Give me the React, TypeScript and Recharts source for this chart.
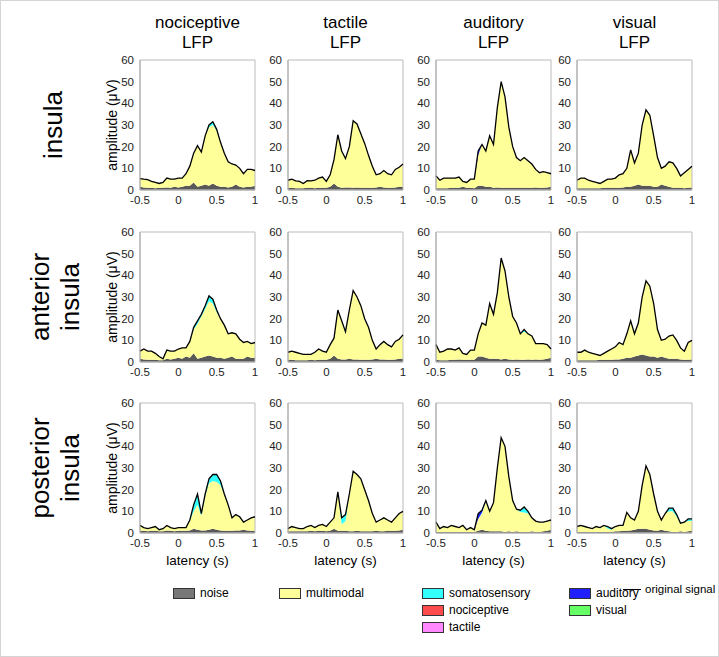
import { ComposedChart, Area, Line, XAxis, YAxis, ReferenceArea } from 'recharts';

const latency = [-0.5, -0.45, -0.4, -0.35, -0.3, -0.25, -0.2, -0.15, -0.1, -0.05, 0, 0.05, 0.1, 0.15, 0.2, 0.25, 0.3, 0.35, 0.4, 0.45, 0.5, 0.55, 0.6, 0.65, 0.7, 0.75, 0.8, 0.85, 0.9, 0.95, 1];
const modalities = ['nociceptive', 'tactile', 'auditory', 'visual'];
const regions = [['insula'], ['anterior', 'insula'], ['posterior', 'insula']];
const xTicks = [-0.5, 0, 0.5, 1];
const yTicks = [0, 10, 20, 30, 40, 50, 60];

const flat = [0, 0, 0, 0, 0, 0, 0, 0, 0, 0, 0, 0, 0, 0, 0, 0, 0, 0, 0, 0, 0, 0, 0, 0, 0, 0, 0, 0, 0, 0, 0];

// insula
const sigInsNoc = [5.3, 5, 4.8, 4, 3.5, 3, 3.5, 5.5, 5, 5, 5.5, 5.5, 7.5, 11, 17, 20.5, 17.5, 25, 30, 31.5, 28, 22, 17, 13, 12, 11.5, 10, 7.5, 9.5, 9.5, 9];
const noiseInsNoc = [1.5, 1.2, 1, 1, 0.8, 1, 1, 1.2, 1, 1.5, 1.2, 1.5, 2, 2, 3.5, 1.5, 2, 2.5, 2, 3, 2, 1.5, 1.5, 1.2, 1.5, 2.5, 1.5, 1.2, 1.5, 1.5, 2];
const somaInsNoc = [0, 0, 0, 0, 0, 0, 0, 0, 0, 0, 0, 0, 0, 0, 0, 0, 0, 0, 1, 1.5, 0.5, 0, 0, 0, 0, 0, 0, 0, 0, 0, 0];

const sigInsTac = [4.5, 5, 4.2, 4, 3, 4.3, 4.2, 4.5, 5.5, 6, 4, 7, 14, 25.5, 18, 14.5, 20, 32, 30.5, 26, 21.5, 16, 11, 7, 7.5, 9, 7.5, 7, 9.5, 10.5, 12];
const noiseInsTac = [1, 1, 0.8, 0.8, 0.8, 1, 1, 0.8, 1, 1, 1, 1.5, 3, 1.5, 1, 1.2, 1.2, 1, 1.2, 1, 1, 1, 1, 1.2, 1.5, 1.2, 1, 1, 1.2, 1.5, 1.5];

const sigInsAud = [6.5, 4.5, 5.5, 5.5, 5.5, 5.5, 6, 4, 3.5, 5, 5, 18, 21, 18, 25, 21, 38, 50, 43, 29, 20, 15, 13.5, 15, 13.5, 12, 9.5, 8, 8.5, 8, 7.5];
const noiseInsAud = [0.8, 0.8, 0.8, 0.8, 1, 1, 1, 1.5, 1, 1, 0.8, 2, 2, 1.5, 1.5, 1, 1.2, 1, 1, 1, 1, 1, 1, 1, 1, 1, 1.2, 1, 1, 1.2, 1.5];
const audInsAud = [0, 0, 0, 0, 0, 0, 0, 0, 0, 0, 0, 2, 0, 0, 0, 0, 0, 0, 0, 0, 0, 0, 0, 0, 0, 0, 0, 0, 0, 0, 0];

const sigInsVis = [4.5, 5.5, 5.5, 4.5, 4, 3.5, 3, 4, 5, 5, 5.5, 7, 7.5, 10, 18.5, 12.5, 17, 30, 37, 34.5, 25, 15, 10, 11, 13, 12.5, 10, 6.5, 8, 9.5, 11];
const noiseInsVis = [0.8, 0.8, 0.8, 0.8, 0.8, 0.8, 0.8, 1, 1, 1, 1, 1, 1.2, 1.5, 1.5, 2, 2.5, 2, 2, 2, 1.5, 1.5, 2.5, 2, 1.5, 1, 1, 1, 0.8, 1, 1.2];

// anterior insula
const sigAntNoc = [5, 6, 5, 5, 4, 2.5, 1.5, 5.5, 5, 5, 6, 6.5, 6.5, 9.5, 16, 19, 22, 26, 30.5, 29, 24, 20, 17, 13, 13.5, 13, 10.5, 9, 9.5, 8.5, 9];
const noiseAntNoc = [1.5, 1.2, 1, 1, 1, 0.8, 0.8, 1.5, 1.2, 1.5, 2, 1.5, 2.5, 2, 4, 1.5, 2, 2.5, 3, 2.5, 2, 2, 1.5, 2, 2.5, 1.5, 1.5, 1.5, 2.5, 2, 2];
const somaAntNoc = [0, 0, 0, 0, 0, 0, 0, 0, 0, 0, 0, 0, 0, 0, 1, 1.5, 1, 1.5, 2.5, 2, 1, 0, 0, 0, 0, 0, 0, 0, 0, 0, 0];

const sigAntTac = [4.5, 5, 4.5, 4, 3.5, 3.5, 3.5, 4.5, 6, 5, 4.5, 8, 11, 24, 19, 14, 24, 33, 30, 26, 20, 16, 10, 6, 8, 9.5, 8, 7, 9.5, 10.5, 12.5];
const noiseAntTac = [1, 1, 0.8, 0.8, 0.8, 0.8, 1, 0.8, 1, 1, 1, 1.5, 3, 1.5, 1.2, 1.2, 1.5, 1.2, 1.2, 1, 1, 1, 1.2, 1.5, 1.2, 1.2, 1, 1, 1.2, 1.5, 1.5];
const somaAntTac = [0, 0, 0, 0, 0, 0, 0, 0, 0, 0, 0, 0, 0, 0, 0, 1, 0, 0, 0, 0, 0, 0, 0, 0, 0, 0, 0, 0, 0, 0, 0];

const sigAntAud = [8, 4.5, 5, 6, 6, 5.5, 6.5, 4, 3.5, 5.5, 5.5, 13, 18, 17, 27, 22, 32, 48, 42, 30, 21, 18, 13, 15, 13, 12, 8.5, 8.5, 8.5, 8, 6];
const noiseAntAud = [1, 0.8, 0.8, 0.8, 1, 1, 1.2, 1, 1, 1, 1, 2.5, 2.5, 2, 1.5, 1.5, 1.5, 1.2, 1.5, 1.2, 1, 1.2, 1, 1, 1.2, 1, 1.2, 1, 1.2, 1.5, 2];
const somaAntAud = [0, 0, 0, 0, 0, 0, 0, 0, 0, 0, 0, 0, 0, 0, 0, 0, 0, 0, 0, 0, 0, 0, 0, 1, 0, 0, 0, 0, 0, 0, 0];

const sigAntVis = [4.5, 4.5, 5.5, 4.5, 4, 3.5, 3, 4, 5, 6, 7, 9, 8, 13, 19, 13, 18, 30, 37.5, 35, 27, 15, 10, 10.5, 12, 12.5, 10, 6.5, 5, 9, 10];
const noiseAntVis = [0.8, 0.8, 0.8, 0.8, 0.8, 0.8, 1, 1, 1, 1, 1.2, 1.2, 1.5, 2, 2, 2.5, 3, 3.5, 3, 2.5, 2.5, 2, 2.5, 2, 1.5, 1.5, 1.5, 1.2, 1, 1, 1.2];

// posterior insula
const sigPostNoc = [3.5, 2.5, 2, 2.5, 3, 1.5, 2, 3.5, 2.5, 2, 2.5, 2.5, 2.5, 6, 13, 18, 9, 18, 25, 27, 27, 24, 18, 13, 7, 8.5, 7.5, 5, 6, 7, 7.5];
const noisePostNoc = [1, 1, 0.8, 1, 1, 0.8, 0.8, 1.2, 1, 0.8, 1, 1, 1, 1.2, 2, 1.5, 1.2, 1.2, 1.5, 2, 1.5, 1.2, 1, 1, 1, 1.2, 1.2, 1.5, 1.2, 1, 1];
const somaPostNoc = [0, 0, 0, 0, 0, 0, 0, 0, 0, 0, 0, 0, 0, 0.5, 3, 5, 1, 1, 2, 3, 3.5, 2, 0.5, 0, 0, 0, 0, 0, 0, 0, 0];

const sigPostTac = [2, 3, 2.5, 2, 2, 3, 3.5, 2.5, 3.5, 4, 3, 5, 7, 19, 7, 8.5, 18, 28.5, 27, 25, 20, 15, 9, 5, 6, 7, 6, 5, 7, 9, 10];
const noisePostTac = [0.8, 0.8, 0.8, 0.8, 0.8, 0.8, 1, 0.8, 1, 1, 0.8, 1, 2, 1, 1, 1, 0.8, 0.8, 1, 0.8, 0.8, 0.8, 0.8, 1, 0.8, 0.8, 1, 1, 1, 1.2, 1.5];
const somaPostTac = [0, 0, 0, 0, 0, 0, 0, 0, 0, 0, 0, 0, 0, 0, 3, 3, 0, 0, 0, 0, 0, 0, 0, 0, 0, 0, 0, 0, 0, 0, 0];

const sigPostAud = [5, 2, 3, 2.5, 3.5, 3, 2.5, 3.5, 1.5, 2.5, 1.5, 9, 10.5, 15, 10, 14, 30, 44, 40, 26, 15, 11, 10.5, 12, 10, 7, 5.5, 5, 5, 5.5, 6];
const noisePostAud = [0.5, 0.5, 0.5, 0.5, 0.5, 0.5, 0.5, 0.5, 0.5, 0.5, 0.5, 1, 1.5, 1, 0.8, 0.8, 0.8, 0.8, 0.5, 0.8, 0.5, 0.8, 0.5, 0.5, 0.5, 0.8, 0.5, 0.5, 0.8, 1, 1.5];
const somaPostAud = [0, 0, 0, 0, 0, 0, 0, 0, 0, 0, 0, 0, 0.5, 0.5, 0, 0, 0, 0, 0, 0, 0, 0, 0.8, 2.5, 1, 0, 0, 0, 0, 0, 0];
const audPostAud = [0, 0, 0, 0, 0, 0, 0, 0, 0, 0, 0, 2.5, 1, 0, 0, 0, 0, 0, 0, 0, 0, 0, 0, 0, 0, 0, 0, 0, 0, 0, 0];

const sigPostVis = [3, 3.5, 3, 2.5, 2, 3, 2.5, 3.5, 3, 2, 3, 3.5, 3.5, 9.5, 7, 6, 10, 22, 31, 27, 18, 10, 6, 9, 11.5, 11.5, 8.5, 4.5, 5, 6.5, 6.5];
const noisePostVis = [0.5, 0.5, 0.5, 0.5, 0.5, 0.5, 0.5, 0.5, 0.5, 0.5, 0.8, 0.8, 1, 1, 1.2, 1.5, 2, 2, 2, 1.5, 1.2, 1, 1.5, 1, 0.8, 0.5, 0.5, 0.8, 0.5, 0.8, 1];
const somaPostVis = [0, 0, 0, 0, 0, 0, 0, 0, 1, 0.5, 0, 0, 0, 0, 0, 0, 0, 0, 0, 0, 0, 0, 0, 0, 1.5, 1.5, 1, 0, 0, 1, 1];

type Panel = { signal: number[]; noise: number[]; soma: number[]; aud: number[] };

const grid: Panel[][] = [
  [
    { signal: sigInsNoc, noise: noiseInsNoc, soma: somaInsNoc, aud: flat },
    { signal: sigInsTac, noise: noiseInsTac, soma: flat, aud: flat },
    { signal: sigInsAud, noise: noiseInsAud, soma: flat, aud: audInsAud },
    { signal: sigInsVis, noise: noiseInsVis, soma: flat, aud: flat },
  ],
  [
    { signal: sigAntNoc, noise: noiseAntNoc, soma: somaAntNoc, aud: flat },
    { signal: sigAntTac, noise: noiseAntTac, soma: somaAntTac, aud: flat },
    { signal: sigAntAud, noise: noiseAntAud, soma: somaAntAud, aud: flat },
    { signal: sigAntVis, noise: noiseAntVis, soma: flat, aud: flat },
  ],
  [
    { signal: sigPostNoc, noise: noisePostNoc, soma: somaPostNoc, aud: flat },
    { signal: sigPostTac, noise: noisePostTac, soma: somaPostTac, aud: flat },
    { signal: sigPostAud, noise: noisePostAud, soma: somaPostAud, aud: audPostAud },
    { signal: sigPostVis, noise: noisePostVis, soma: somaPostVis, aud: flat },
  ],
];

const colLeft = [139, 287, 435, 576];
const rowTop = [59, 231, 402];
const plotW = 115;
const plotH = 130;
const font = '"Liberation Sans", Arial, sans-serif';

const C = {
  noise: '#585858',
  multi: '#ffff99',
  soma: '#33ffff',
  noci: '#ff4d4d',
  tact: '#ff88ff',
  aud: '#2020ff',
  vis: '#66ff66',
};

function toRows(p: Panel) {
  return latency.map((t, i) => ({
    t,
    noise: p.noise[i],
    multi: Math.max(0, p.signal[i] - p.noise[i] - p.soma[i] - p.aud[i]),
    soma: p.soma[i],
    aud: p.aud[i],
    signal: p.signal[i],
  }));
}

function PanelChart({ p, left, top }: { p: Panel; left: number; top: number }) {
  const data = toRows(p);
  return (
    <div style={{ position: 'absolute', left: left - 30, top: top - 5 }}>
      <ComposedChart width={30 + plotW + 10} height={5 + plotH + 22} data={data} margin={{ top: 5, right: 10, bottom: 0, left: 0 }}>
        <XAxis
          dataKey="t"
          type="number"
          domain={[-0.5, 1]}
          ticks={xTicks}
          interval={0}
          height={22}
          tickLine={false}
          tickSize={4}
          axisLine={{ stroke: '#aaa' }}
          tick={{ fontSize: 11.5, fill: '#222', fontFamily: font }}
        />
        <YAxis
          type="number"
          domain={[0, 60]}
          ticks={yTicks}
          interval={0}
          width={30}
          tickLine={false}
          tickSize={4}
          axisLine={{ stroke: '#aaa' }}
          tick={{ fontSize: 11.5, fill: '#222', fontFamily: font }}
        />
        <Area type="linear" dataKey="noise" stackId="s" stroke="none" fill={C.noise} fillOpacity={1} isAnimationActive={false} />
        <Area type="linear" dataKey="multi" stackId="s" stroke="none" fill={C.multi} fillOpacity={1} isAnimationActive={false} />
        <Area type="linear" dataKey="soma" stackId="s" stroke="none" fill={C.soma} fillOpacity={1} isAnimationActive={false} />
        <Area type="linear" dataKey="aud" stackId="s" stroke="none" fill={C.aud} fillOpacity={1} isAnimationActive={false} />
        <Line type="linear" dataKey="signal" stroke="#000" strokeWidth={1.3} dot={false} isAnimationActive={false} />
        <ReferenceArea x1={-0.5} x2={1} y1={0} y2={60} fill="none" stroke="#bbb" strokeWidth={1} />
      </ComposedChart>
    </div>
  );
}

function Rot({ x, y, size, lh, children }: { x: number; y: number; size: number; lh?: number; children: any }) {
  return (
    <div
      style={{
        position: 'absolute',
        left: x,
        top: y,
        transform: 'translate(-50%, -50%) rotate(-90deg)',
        fontSize: size,
        lineHeight: `${lh ?? size * 1.15}px`,
        whiteSpace: 'nowrap',
        textAlign: 'center',
        color: '#000',
      }}
    >
      {children}
    </div>
  );
}

function Swatch({ x, y, color, label }: { x: number; y: number; color: string; label: string }) {
  return (
    <>
      <div style={{ position: 'absolute', left: x, top: y, width: 22, height: 11, background: color, border: '1px solid #333', boxSizing: 'border-box' }} />
      <div style={{ position: 'absolute', left: x + 27, top: y - 2, fontSize: 12, lineHeight: '15px', whiteSpace: 'nowrap' }}>{label}</div>
    </>
  );
}

export default function App() {
  return (
    <div
      style={{
        position: 'relative',
        width: 719,
        height: 657,
        background: '#fff',
        fontFamily: font,
        border: '1px solid #d4d4d4',
        boxSizing: 'border-box',
        overflow: 'hidden',
      }}
    >
      <style>{'body{margin:0}'}</style>
      {modalities.map((m, c) => (
        <div
          key={m}
          style={{ position: 'absolute', left: colLeft[c] + plotW / 2, top: 12, transform: 'translateX(-50%)', fontSize: 17, lineHeight: '20px', textAlign: 'center', whiteSpace: 'nowrap' }}
        >
          {m}
          <br />
          LFP
        </div>
      ))}
      {regions.map((lines, r) => (
        <Rot key={r} x={lines.length > 1 ? 54 : 52} y={rowTop[r] + plotH / 2} size={26} lh={30}>
          {lines.map((l, i) => (
            <div key={i}>{l}</div>
          ))}
        </Rot>
      ))}
      {rowTop.map((t, r) => (
        <Rot key={'amp' + r} x={111} y={t + plotH / 2} size={14}>
          amplitude (μV)
        </Rot>
      ))}
      {grid.map((row, r) =>
        row.map((p, c) => <PanelChart key={`${r}-${c}`} p={p} left={colLeft[c]} top={rowTop[r]} />)
      )}
      {colLeft.map((l, c) => (
        <div key={'lat' + c} style={{ position: 'absolute', left: l + plotW / 2, top: 551, transform: 'translateX(-50%)', fontSize: 13.5, lineHeight: '17px', whiteSpace: 'nowrap' }}>
          latency (s)
        </div>
      ))}
      <Swatch x={172} y={587} color="#777" label="noise" />
      <Swatch x={278} y={587} color={C.multi} label="multimodal" />
      <Swatch x={421} y={587} color={C.soma} label="somatosensory" />
      <Swatch x={421} y={604} color={C.noci} label="nociceptive" />
      <Swatch x={421} y={621} color={C.tact} label="tactile" />
      <Swatch x={568} y={587} color={C.aud} label="auditory" />
      <Swatch x={568} y={604} color={C.vis} label="visual" />
      <div style={{ position: 'absolute', left: 622, top: 588, width: 18, height: 1.3, background: '#000' }} />
      <div style={{ position: 'absolute', left: 644, top: 581, fontSize: 11.5, lineHeight: '15px', whiteSpace: 'nowrap' }}>original signal</div>
    </div>
  );
}
